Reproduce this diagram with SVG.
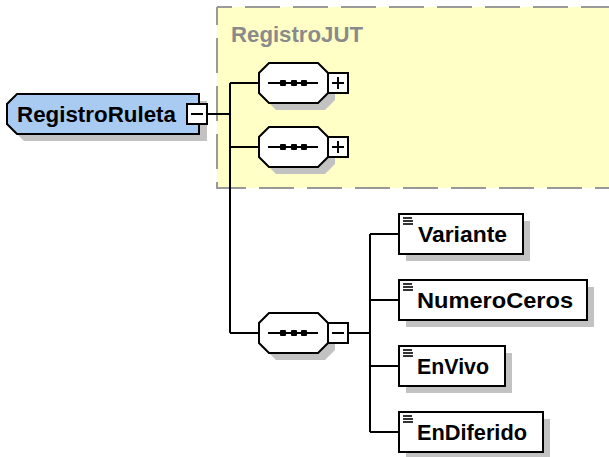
<svg xmlns="http://www.w3.org/2000/svg" width="609" height="457" viewBox="0 0 609 457">
  <style>
    .lbl { font-family: "Liberation Sans", Arial, sans-serif; font-weight: bold; font-size: 22px; fill: #000; }
    .grp { font-family: "Liberation Sans", Arial, sans-serif; font-weight: bold; font-size: 22px; fill: #8a8a8a; }
    .shadow { fill: #c2c2c2; stroke: none; }
    .box { fill: #fff; stroke: #000; stroke-width: 2; }
    .root { fill: #a9cbf1; stroke: #000; stroke-width: 2; }
    .wire { stroke: #000; stroke-width: 2; fill: none; }
    .dash { stroke: #999; stroke-width: 2; fill: none; stroke-dasharray: 35 13; }
    .mark { stroke: #000; stroke-width: 2; fill: none; }
    .icon { stroke: #000; stroke-width: 1.6; }
  </style>
  <defs>
    <!-- sequence compositor: octagon centred on y=0 -->
    <g id="seqShape">
      <polygon class="shadow" points="17,-13 66,-13 76,-3 76,17 66,27 17,27 7,17 7,-3"/>
      <polygon class="box" points="10,-20 59,-20 69,-10 69,10 59,20 10,20 0,10 0,-10"/>
      <line x1="9" y1="0" x2="59" y2="0" class="mark"/>
      <rect x="21" y="-3" width="6" height="6" rx="1"/>
      <rect x="32" y="-3" width="6" height="6" rx="1"/>
      <rect x="42" y="-3" width="6" height="6" rx="1"/>
      <rect x="69" y="-10" width="20" height="20" class="box"/>
      <line x1="73" y1="0" x2="85" y2="0" class="mark"/>
    </g>
    <g id="iconLines">
      <line x1="0" y1="0" x2="9" y2="0" class="icon"/>
      <line x1="0" y1="3" x2="10" y2="3" class="icon"/>
      <line x1="0" y1="6" x2="10" y2="6" class="icon"/>
    </g>
  </defs>

  <!-- model group RegistroJUT -->
  <g id="RegistroJUT">
    <rect x="217" y="7" width="420" height="181" fill="#ffffc6" stroke="none"/>
    <path class="dash" d="M217,7 H640" stroke-dashoffset="20"/>
    <path class="dash" d="M217,7 V188 H640" stroke-dashoffset="17"/>
    <text class="grp" x="231" y="42" textLength="132" lengthAdjust="spacingAndGlyphs">RegistroJUT</text>
  </g>

  <!-- connectors -->
  <g id="connectors">
    <path class="wire" d="M207,114 H230"/>
    <path class="wire" d="M230,83 V333"/>
    <path class="wire" d="M230,83 H259 M230,147 H259 M230,333 H259"/>
    <path class="wire" d="M348,333 H370"/>
    <path class="wire" d="M370,234 V432"/>
    <path class="wire" d="M370,234 H399 M370,300 H399 M370,366 H399 M370,432 H399"/>
  </g>

  <!-- root element -->
  <g id="RegistroRuleta">
    <polygon class="shadow" points="24,101 207,101 207,141 24,141 14,131 14,111"/>
    <polygon class="root" points="17,94 199,94 199,134 17,134 7,124 7,104"/>
    <text class="lbl" x="17" y="122" textLength="159" lengthAdjust="spacingAndGlyphs">RegistroRuleta</text>
    <rect x="187" y="104" width="20" height="20" class="box"/>
    <line x1="191" y1="114" x2="203" y2="114" class="mark"/>
  </g>

  <!-- sequence 1 (collapsed) -->
  <g id="seq1" transform="translate(259,83)">
    <use href="#seqShape"/>
    <line x1="79" y1="-6" x2="79" y2="6" class="mark"/>
  </g>

  <!-- sequence 2 (collapsed) -->
  <g id="seq2" transform="translate(259,147)">
    <use href="#seqShape"/>
    <line x1="79" y1="-6" x2="79" y2="6" class="mark"/>
  </g>

  <!-- sequence 3 (expanded) -->
  <g id="seq3" transform="translate(259,333)">
    <use href="#seqShape"/>
  </g>

  <!-- child elements -->
  <g id="Variante">
    <rect x="406" y="221" width="124" height="40" class="shadow"/>
    <rect x="399" y="214" width="124" height="40" class="box"/>
    <use href="#iconLines" x="403" y="218"/>
    <text class="lbl" x="418" y="242" textLength="89" lengthAdjust="spacingAndGlyphs">Variante</text>
  </g>

  <g id="NumeroCeros">
    <rect x="406" y="287" width="188" height="40" class="shadow"/>
    <rect x="399" y="280" width="188" height="40" class="box"/>
    <use href="#iconLines" x="403" y="284"/>
    <text class="lbl" x="417" y="308" textLength="156" lengthAdjust="spacingAndGlyphs">NumeroCeros</text>
  </g>

  <g id="EnVivo">
    <rect x="406" y="353" width="106" height="40" class="shadow"/>
    <rect x="399" y="346" width="106" height="40" class="box"/>
    <use href="#iconLines" x="403" y="350"/>
    <text class="lbl" x="417" y="374" textLength="72" lengthAdjust="spacingAndGlyphs">EnVivo</text>
  </g>

  <g id="EnDiferido">
    <rect x="406" y="419" width="144" height="40" class="shadow"/>
    <rect x="399" y="412" width="144" height="40" class="box"/>
    <use href="#iconLines" x="403" y="416"/>
    <text class="lbl" x="417" y="440" textLength="110" lengthAdjust="spacingAndGlyphs">EnDiferido</text>
  </g>
</svg>
